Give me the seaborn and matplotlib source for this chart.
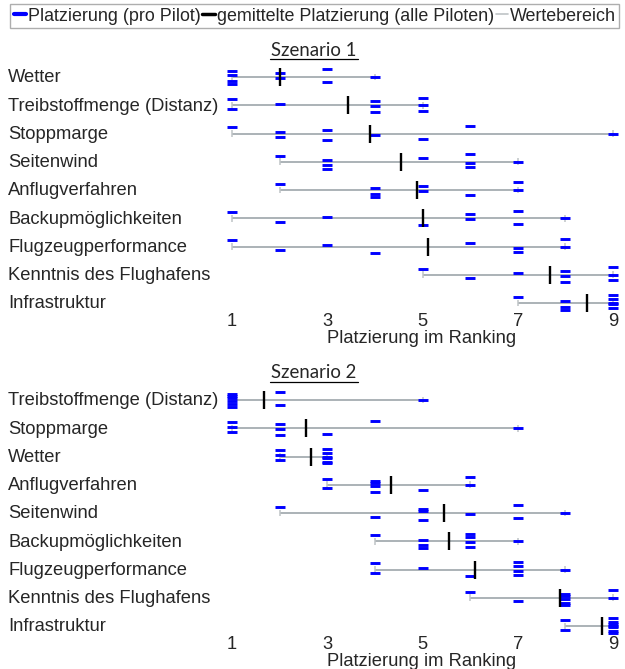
import numpy as np
import pandas as pd
import matplotlib
matplotlib.use("Agg")
import matplotlib.pyplot as plt
import matplotlib.transforms as mtransforms
from matplotlib.lines import Line2D
import seaborn as sns

# ---------------- data ----------------
S1_CATEGORIES = ["Wetter", "Treibstoffmenge (Distanz)", "Stoppmarge", "Seitenwind",
                 "Anflugverfahren", "Backupmöglichkeiten", "Flugzeugperformance",
                 "Kenntnis des Flughafens", "Infrastruktur"]
S1_VALUES = [
    [1, 1, 1, 1, 2, 2, 3, 3, 4],
    [1, 1, 2, 4, 4, 4, 5, 5, 5],
    [1, 2, 2, 3, 3, 4, 5, 6, 9],
    [2, 3, 3, 3, 5, 6, 6, 6, 7],
    [2, 4, 4, 4, 5, 5, 6, 7, 7],
    [1, 2, 3, 5, 6, 6, 7, 7, 8],
    [1, 2, 3, 4, 6, 7, 7, 8, 8],
    [5, 6, 7, 8, 8, 8, 9, 9, 9],
    [7, 8, 8, 8, 9, 9, 9, 9, 9],
]
S2_CATEGORIES = ["Treibstoffmenge (Distanz)", "Stoppmarge", "Wetter", "Anflugverfahren",
                 "Seitenwind", "Backupmöglichkeiten", "Flugzeugperformance",
                 "Kenntnis des Flughafens", "Infrastruktur"]
S2_VALUES = [
    [1, 1, 1, 1, 1, 1, 2, 2, 5],
    [1, 1, 1, 2, 2, 2, 3, 4, 7],
    [2, 2, 2, 3, 3, 3, 3, 3, 3],
    [3, 3, 4, 4, 4, 4, 5, 6, 6],
    [2, 4, 5, 5, 5, 6, 7, 7, 8],
    [4, 5, 5, 5, 6, 6, 6, 6, 7],
    [4, 4, 5, 6, 7, 7, 7, 7, 8],
    [6, 7, 8, 8, 8, 8, 8, 9, 9],
    [8, 8, 9, 9, 9, 9, 9, 9, 9],
]
TITLES = ["Szenario 1", "Szenario 2"]
XTICKS = [1, 3, 5, 7, 9]
XLABEL = "Platzierung im Ranking"
LEGEND_LABELS = ["Platzierung (pro Pilot)", "gemittelte Platzierung (alle Piloten)", "Wertebereich"]

# vertical spread of the pilot dashes within a row (style only)
JITTER = [-0.22, 0.13, -0.06, 0.24, -0.14, 0.04, 0.19, -0.27, 0.0]

# ---------------- styling ----------------
sns.set_theme(style="white")
plt.rcParams["font.family"] = ["Liberation Sans", "DejaVu Sans"]

W, H = 625, 669
fig = plt.figure(figsize=(W / 100, H / 100), dpi=100)

PX_UNIT = 47.625  # px per rank unit
X1_PX = 232
ROW_PX = 28.25
XMIN, XMAX = 0.85, 9.15
FS = 13.2

BLUE = "#0000ff"
RANGE_C = "#959ea3"
CAP_C = "#bfc3c6"


def make_axes(row0_px):
    left_px = X1_PX + (XMIN - 1) * PX_UNIT
    width_px = (XMAX - XMIN) * PX_UNIT
    top_px = row0_px - 0.5 * ROW_PX
    bot_px = row0_px + 8.3 * ROW_PX
    ax = fig.add_axes([left_px / W, 1 - bot_px / H, width_px / W, (bot_px - top_px) / H])
    ax.set_xlim(XMIN, XMAX)
    ax.set_ylim(8.3, -0.5)
    return ax


def draw_panel(ax, cats, values, title, row0_px):
    rows = []
    for i, (c, vals) in enumerate(zip(cats, values)):
        for j, v in enumerate(vals):
            rows.append({"cat": c, "row": i, "value": v, "y": i + JITTER[j]})
    df = pd.DataFrame(rows)
    stats = df.groupby("row")["value"].agg(["min", "max", "mean"]).reset_index()

    # range lines
    ax.hlines(stats["row"], stats["min"], stats["max"], color=RANGE_C, lw=1.1, zorder=1)
    for col in ["min", "max"]:
        ax.vlines(stats[col], stats["row"] - 0.12, stats["row"] + 0.12, color=CAP_C, lw=1.1, zorder=1)

    # pilot dashes
    sns.scatterplot(data=df, x="value", y="y", marker="_", s=60, color=BLUE,
                    linewidth=2.1, ax=ax, legend=False, zorder=3)
    # means
    sns.scatterplot(data=stats, x="mean", y="row", marker="|", s=150, color="black",
                    linewidth=1.7, ax=ax, legend=False, zorder=4)

    ax.set_xticks(XTICKS)
    ax.set_xticklabels([str(t) for t in XTICKS], fontsize=FS)
    ax.set_yticks([])
    ax.set_xlabel("")
    ax.set_ylabel("")
    ax.tick_params(axis="x", length=0, pad=0.8)
    for s in ax.spines.values():
        s.set_visible(False)
    ax.patch.set_alpha(0)

    trans = mtransforms.blended_transform_factory(fig.transFigure, ax.transData)
    for i, c in enumerate(cats):
        ax.text(8 / W, i + 0.03, c, transform=trans, ha="left", va="center", fontsize=FS, clip_on=False)

    # title with underline
    ty = row0_px - 27
    fig.text(314 / W, 1 - ty / H, title, ha="center", va="center", fontsize=13.4,
             family=["Lato", "DejaVu Sans"])
    fig.add_artist(Line2D([270 / W, 358 / W], [1 - (ty + 9) / H] * 2, color="black", lw=0.9))

    # x label
    fig.text(422 / W, 1 - (row0_px + 261) / H, XLABEL, ha="center", va="center", fontsize=FS)


ax1 = make_axes(77)
draw_panel(ax1, S1_CATEGORIES, S1_VALUES, TITLES[0], 77)
ax2 = make_axes(400)
draw_panel(ax2, S2_CATEGORIES, S2_VALUES, TITLES[1], 400)

handles = [Line2D([], [], color=BLUE, lw=3),
           Line2D([], [], color="black", lw=2.5),
           Line2D([], [], color=CAP_C, lw=1.2)]
leg = fig.legend(handles, LEGEND_LABELS, loc="upper center", bbox_to_anchor=(0.5035, 1 - 4 / H),
                 ncol=3, fontsize=12.85, frameon=True, fancybox=False, handlelength=0.7,
                 handletextpad=0.1, columnspacing=0.1, borderpad=0.2, borderaxespad=0)
leg.get_frame().set_edgecolor("#9a9a9a")
leg.get_frame().set_linewidth(1.0)

fig.savefig("out.png", dpi=100)
